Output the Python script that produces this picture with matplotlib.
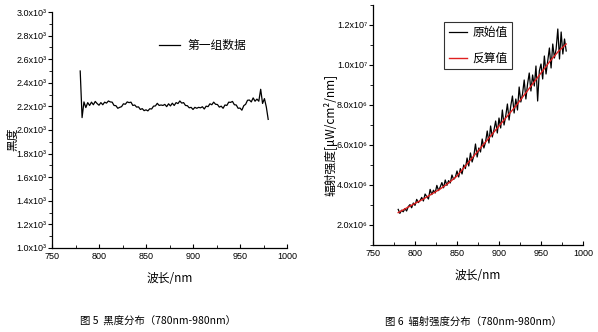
import numpy as np
import matplotlib
matplotlib.use("Agg")
import matplotlib.pyplot as plt
from matplotlib.ticker import MultipleLocator, FuncFormatter

plt.rcParams['font.family'] = ['Noto Sans CJK SC', 'DejaVu Sans']

# ---- data ----
wavelength = np.arange(780, 981, 2)

# blackness, group 1
blackness = [
    2500, 2105, 2238, 2190, 2232, 2208, 2236, 2214, 2242, 2224,
    2210, 2232, 2214, 2236, 2228, 2246, 2238, 2236, 2208, 2206,
    2184, 2192, 2198, 2222, 2218, 2238, 2232, 2236, 2208, 2212,
    2194, 2196, 2174, 2181, 2164, 2171, 2162, 2180, 2178, 2202,
    2204, 2226, 2208, 2212, 2208, 2217, 2198, 2222, 2204, 2227,
    2208, 2232, 2224, 2246, 2228, 2232, 2208, 2206, 2188, 2192,
    2174, 2192, 2184, 2192, 2188, 2197, 2178, 2202, 2198, 2222,
    2214, 2236, 2218, 2216, 2194, 2202, 2184, 2212, 2208, 2236,
    2234, 2242, 2214, 2212, 2184, 2186, 2168, 2206, 2218, 2252,
    2254, 2238, 2272, 2244, 2262, 2244, 2345, 2225, 2266, 2195,
    2090,
]

# radiant intensity, raw values (x10^6)
raw_intensity = [
    2.78, 2.58, 2.74, 2.66, 2.82, 2.70, 2.92, 3.02, 2.86, 3.10,
    2.98, 3.28, 3.12, 3.22, 3.38, 3.20, 3.55, 3.42, 3.30, 3.78,
    3.52, 3.74, 3.60, 3.98, 3.72, 3.90, 4.12, 3.86, 4.25, 3.98,
    4.22, 4.10, 4.50, 4.28, 4.38, 4.70, 4.40, 4.82, 4.55, 5.00,
    4.82, 5.35, 4.95, 5.60, 5.15, 5.45, 6.05, 5.40, 5.85, 5.65,
    6.30, 5.85, 6.15, 6.70, 6.10, 6.95, 6.40, 6.75, 7.20, 6.60,
    7.35, 6.85, 7.75, 7.00, 7.45, 8.05, 7.25, 7.95, 8.45, 7.60,
    8.30, 7.75, 8.90, 8.15, 8.55, 9.25, 8.30, 9.05, 9.60, 8.70,
    9.50, 8.95, 9.95, 8.20, 9.70, 10.05, 9.30, 10.45, 9.55, 10.20,
    10.85, 9.85, 11.05, 10.35, 10.80, 11.80, 10.30, 11.65, 10.55, 11.30,
    10.70,
]

# radiant intensity, back-calculated values (x10^6)
calc_wavelength = np.arange(780, 981, 10)
calc_intensity = [
    2.62, 2.85, 3.08, 3.30, 3.55, 3.80, 4.10, 4.45, 4.95, 5.45,
    5.95, 6.45, 6.95, 7.45, 7.95, 8.50, 9.05, 9.60, 10.15, 10.65,
    11.05,
]

# ---- figure ----
fig = plt.figure(figsize=(5.98, 3.32), dpi=100)

TICK_FAMILY = ['Liberation Sans Narrow', 'Liberation Sans', 'DejaVu Sans']
SUPERSCRIPT = str.maketrans('0123456789', '⁰¹²³⁴⁵⁶⁷⁸⁹')


def sci_fmt(val, pos):
    if val == 0:
        return "0"
    exp = int(np.floor(np.log10(abs(val)) + 1e-9))
    mant = val / 10 ** exp
    return "%.1fx10%s" % (mant, str(exp).translate(SUPERSCRIPT))


def style_axes(ax):
    for s in ('top', 'right'):
        ax.spines[s].set_visible(False)
    for s in ('left', 'bottom'):
        ax.spines[s].set_linewidth(0.9)
    ax.xaxis.set_major_locator(MultipleLocator(50))
    ax.xaxis.set_minor_locator(MultipleLocator(25))
    ax.tick_params(axis='x', which='major', direction='in', length=3, width=0.8, pad=3)
    ax.tick_params(axis='x', which='minor', direction='in', length=2, width=0.6)
    ax.tick_params(axis='y', which='major', direction='out', length=3, width=0.8, pad=1)
    ax.tick_params(axis='y', which='minor', direction='out', length=2, width=0.6)
    ax.yaxis.set_major_formatter(FuncFormatter(sci_fmt))
    for lab in ax.get_xticklabels() + ax.get_yticklabels():
        lab.set_fontfamily(TICK_FAMILY)
        lab.set_fontsize(6.5)


# left panel: blackness
ax1 = fig.add_axes([52 / 598, 1 - 248 / 332, (287 - 52) / 598, (248 - 12) / 332])
ax1.plot(wavelength, blackness, color='black', lw=0.9, label='第一组数据')
ax1.set_xlim(750, 1000)
ax1.set_ylim(1000, 3000)
ax1.yaxis.set_major_locator(MultipleLocator(200))
ax1.yaxis.set_minor_locator(MultipleLocator(100))
style_axes(ax1)
ax1.set_xlabel('波长/nm', fontsize=8.5, labelpad=8)
ax1.set_ylabel('黑度', fontsize=8.5)
ax1.yaxis.set_label_coords(-0.14, 0.46)
leg1 = ax1.legend(loc='upper left', bbox_to_anchor=(0.41, 0.93), frameon=False,
                  fontsize=8.5, handlelength=1.8, handletextpad=0.6)

# right panel: radiant intensity
ax2 = fig.add_axes([373 / 598, 1 - 245 / 332, (583 - 373) / 598, (245 - 5) / 332])
ax2.plot(wavelength, np.array(raw_intensity) * 1e6, color='black', lw=0.9, label='原始值')
ax2.plot(calc_wavelength, np.array(calc_intensity) * 1e6, color='#e02020', lw=1.0, label='反算值')
ax2.set_xlim(750, 1000)
ax2.set_ylim(1.0e6, 1.3e7)
ax2.yaxis.set_major_locator(MultipleLocator(2e6))
ax2.yaxis.set_minor_locator(MultipleLocator(1e6))
style_axes(ax2)
ax2.set_xlabel('波长/nm', fontsize=8.5, labelpad=8)
ax2.set_ylabel('辐射强度[μW/cm²/nm]', fontsize=8.5)
ax2.yaxis.set_label_coords(-0.17, 0.46)
leg2 = ax2.legend(loc='upper left', bbox_to_anchor=(0.34, 0.93), frameon=True,
                  fontsize=8.5, handlelength=1.6, handletextpad=0.4, labelspacing=1.1,
                  fancybox=False, borderpad=0.35, borderaxespad=0)
leg2.get_frame().set_edgecolor('black')
leg2.get_frame().set_linewidth(0.8)

# captions
fig.text(80 / 598, 1 - 322 / 332, '图 5  黑度分布（780nm-980nm）', fontsize=7.5, va='center')
fig.text(385 / 598, 1 - 322 / 332, '图 6  辐射强度分布（780nm-980nm）', fontsize=7.5, va='center')

fig.savefig('out.png', dpi=100)
